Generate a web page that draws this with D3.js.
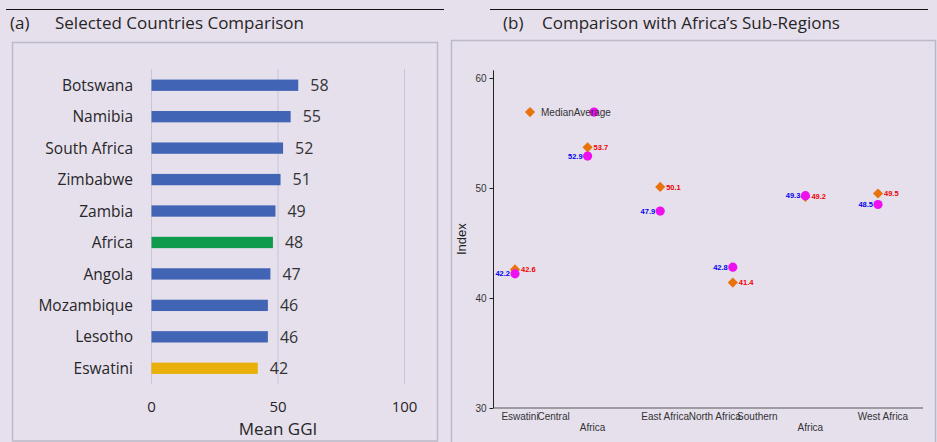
<!DOCTYPE html>
<html>
<head>
<meta charset="utf-8">
<script src="https://cdn.jsdelivr.net/npm/d3@7"></script>
<style>
  html, body { margin: 0; padding: 0; background: #e6e0ed; }
  svg { display: block; }
</style>
</head>
<body>
<svg id="chart" width="937" height="442"></svg>
<script>
// ---- Panel (a): mean GGI by country ----
const countries = ["Botswana", "Namibia", "South Africa", "Zimbabwe", "Zambia",
                   "Africa", "Angola", "Mozambique", "Lesotho", "Eswatini"];
const meanGGI = [58, 55, 52, 51, 49, 48, 47, 46, 46, 42];
const ggiTicks = [0, 50, 100];

// ---- Panel (b): Eswatini vs Africa's sub-regions ----
const regions = ["Eswatini", "Central Africa", "East Africa", "North Africa",
                 "Southern Africa", "West Africa"];
const medianIndex = [42.6, 53.7, 50.1, 41.4, 49.2, 49.5];
const averageIndex = [42.2, 52.9, 47.9, 42.8, 49.3, 48.5];
const indexTicks = [30, 40, 50, 60];

const svg = d3.select("#chart");
const uiFont = "'Open Sans', 'Noto Sans', sans-serif";
const plotFont = "'Liberation Sans', Arial, sans-serif";
const ink = "#262626";

// panel headers with rule lines
function header(x1, x2, tagX, tag, textX, text) {
  svg.append("line").attr("x1", x1).attr("x2", x2).attr("y1", 9.5).attr("y2", 9.5)
    .attr("stroke", "#111").attr("stroke-width", 1);
  svg.append("text").attr("x", tagX).attr("y", 29).text(tag)
    .attr("font-family", uiFont).attr("font-size", 17).attr("fill", ink);
  svg.append("text").attr("x", textX).attr("y", 29).text(text)
    .attr("font-family", uiFont).attr("font-size", 17).attr("fill", ink);
}
header(6, 444, 10, "(a)", 55, "Selected Countries Comparison");
header(490, 928, 503, "(b)", 542, "Comparison with Africa\u2019s Sub-Regions");

// panel frames
svg.append("rect").attr("x", 12.5).attr("y", 42.5).attr("width", 425).attr("height", 398.5)
  .attr("fill", "none").attr("stroke", "#bdb8c5").attr("stroke-width", 1.5);
svg.append("rect").attr("x", 451.5).attr("y", 40.5).attr("width", 484).attr("height", 410)
  .attr("fill", "none").attr("stroke", "#bdb8c5").attr("stroke-width", 1.5);

// ---------- panel (a) ----------
const xA = d3.scaleLinear().domain([0, 100]).range([151.5, 404.5]);
const yA = d3.scaleBand().domain(countries).range([69.5, 384])
  .paddingInner(0.64).paddingOuter(0.32);

const gA = svg.append("g");
gA.selectAll("line.grid").data(ggiTicks).join("line")
  .attr("class", "grid")
  .attr("x1", d => xA(d)).attr("x2", d => xA(d))
  .attr("y1", 69).attr("y2", 384)
  .attr("stroke", "#c9c5d4").attr("stroke-width", 1);

const barColor = d => d === "Africa" ? "#0f9b4e" : d === "Eswatini" ? "#e8b008" : "#4164b4";
const rowsA = countries.map((c, i) => ({ c, v: meanGGI[i] }));

gA.selectAll("rect.bar").data(rowsA).join("rect")
  .attr("class", "bar")
  .attr("x", xA(0))
  .attr("y", d => yA(d.c))
  .attr("width", d => xA(d.v) - xA(0))
  .attr("height", yA.bandwidth())
  .attr("fill", d => barColor(d.c));

gA.selectAll("text.val").data(rowsA).join("text")
  .attr("class", "val")
  .attr("x", d => xA(d.v) + 12)
  .attr("y", d => yA(d.c) + yA.bandwidth() / 2)
  .attr("dy", "0.36em")
  .attr("font-family", uiFont).attr("font-size", 16).attr("fill", "#333")
  .text(d => d.v);

gA.selectAll("text.cat").data(rowsA).join("text")
  .attr("class", "cat")
  .attr("x", 133)
  .attr("y", d => yA(d.c) + yA.bandwidth() / 2)
  .attr("dy", "0.36em")
  .attr("text-anchor", "end")
  .attr("font-family", uiFont).attr("font-size", 15.5).attr("fill", ink)
  .text(d => d.c);

gA.selectAll("text.tick").data(ggiTicks).join("text")
  .attr("class", "tick")
  .attr("x", d => xA(d)).attr("y", 412)
  .attr("text-anchor", "middle")
  .attr("font-family", uiFont).attr("font-size", 15).attr("fill", ink)
  .text(d => d);

gA.append("text").attr("x", xA(50)).attr("y", 435).attr("text-anchor", "middle")
  .attr("font-family", uiFont).attr("font-size", 17).attr("fill", ink)
  .text("Mean GGI");

// ---------- panel (b) ----------
const yB = d3.scaleLinear().domain([30, 60]).range([408, 78]);
const xB = d3.scalePoint().domain(regions).range([515, 878]);

const gB = svg.append("g");

// y axis
const yAxis = d3.axisLeft(yB).tickValues(indexTicks).tickSize(4).tickPadding(3);
const yAxisG = gB.append("g").attr("transform", "translate(493.5,0)").call(yAxis);
yAxisG.select(".domain").attr("d", `M0,${yB(60.7)}V${yB(30)}`).attr("stroke", "#222");
yAxisG.selectAll(".tick line").attr("stroke", "#222");
yAxisG.selectAll(".tick text")
  .attr("font-family", plotFont).attr("font-size", 10).attr("fill", "#333");

gB.append("text")
  .attr("transform", `translate(466,${(yB(30) + yB(60.7)) / 2}) rotate(-90)`)
  .attr("text-anchor", "middle")
  .attr("font-family", plotFont).attr("font-size", 13).attr("fill", "#222")
  .text("Index");

// x axis: baseline and wrapped category labels
gB.append("line").attr("x1", 493.5).attr("x2", 923).attr("y1", yB(30)).attr("y2", yB(30))
  .attr("stroke", "#555").attr("stroke-width", 1);

// first lines of the category labels run together in a flow along the axis
const labelNudge = { "Central Africa": -39, "North Africa": -23, "Southern Africa": -53 };
const labelShift = 5;
regions.forEach(r => {
  const words = r.split(" ");
  const lines = words.length > 1 && (r === "Central Africa" || r === "Southern Africa")
    ? [words[0], words.slice(1).join(" ")] : [r];
  const cx = xB(r) + labelShift;
  lines.forEach((ln, i) => {
    gB.append("text")
      .attr("x", cx + (i === 0 ? (labelNudge[r] || 0) : 0))
      .attr("y", yB(30) + 12 + i * 11)
      .attr("text-anchor", "middle")
      .attr("font-family", plotFont).attr("font-size", 10).attr("fill", "#333")
      .text(ln);
  });
});

const rowsB = regions.map((r, i) => ({ r, med: medianIndex[i], avg: averageIndex[i] }));
// square diamond: a square symbol turned 45 degrees
const diamond = d3.symbol().type(d3.symbolSquare).size(52);
const orange = "#e8730e", magenta = "#ee10ee";

gB.selectAll("path.med").data(rowsB).join("path")
  .attr("class", "med")
  .attr("transform", d => `translate(${xB(d.r)},${yB(d.med)}) rotate(45)`)
  .attr("d", diamond).attr("fill", orange);

gB.selectAll("circle.avg").data(rowsB).join("circle")
  .attr("class", "avg")
  .attr("cx", d => xB(d.r)).attr("cy", d => yB(d.avg)).attr("r", 4.6)
  .attr("fill", magenta);

gB.selectAll("text.avgLab").data(rowsB).join("text")
  .attr("class", "avgLab")
  .attr("x", d => xB(d.r) - 5).attr("y", d => yB(d.avg)).attr("dy", "0.35em")
  .attr("text-anchor", "end")
  .attr("font-family", plotFont).attr("font-size", 7.5).attr("font-weight", "bold")
  .attr("fill", "#0000ee")
  .text(d => d.avg.toFixed(1));

gB.selectAll("text.medLab").data(rowsB).join("text")
  .attr("class", "medLab")
  .attr("x", d => xB(d.r) + 6).attr("y", d => yB(d.med)).attr("dy", "0.35em")
  .attr("font-family", plotFont).attr("font-size", 7.5).attr("font-weight", "bold")
  .attr("fill", "#ee0000")
  .text(d => d.med.toFixed(1));

// legend
const legY = yB(56.9);
gB.append("path").attr("transform", `translate(530,${legY}) rotate(45)`).attr("d", diamond).attr("fill", orange);
const legText = gB.append("text").attr("x", 541).attr("y", legY).attr("dy", "0.35em")
  .attr("font-family", plotFont).attr("font-size", 10).attr("fill", "#333");
legText.append("tspan").text("Median");
gB.append("circle").attr("cx", 594).attr("cy", legY).attr("r", 4.6).attr("fill", magenta);
legText.append("tspan").text("Average");
legText.raise();
</script>
</body>
</html>
